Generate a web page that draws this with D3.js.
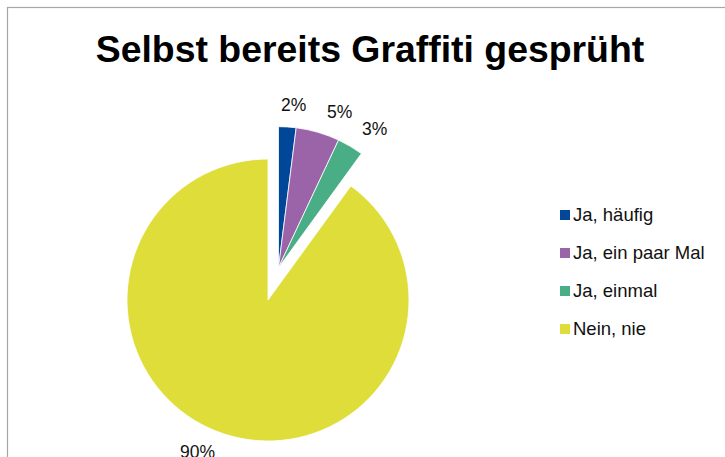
<!DOCTYPE html>
<html>
<head>
<meta charset="utf-8">
<script src="https://cdn.jsdelivr.net/npm/d3@7"></script>
<style>
    body { margin: 0; background: #fff; }
    svg { display: block; font-family: "Liberation Sans", Arial, sans-serif; }
</style>
</head>
<body>
<script>
(function(){
    //chart data
    var categories = ["Ja, häufig", "Ja, ein paar Mal", "Ja, einmal", "Nein, nie"];
    var values = [2, 5, 3, 90];
    var labels = ["2%", "5%", "3%", "90%"];
    var colors = ["#00479A", "#9B63A8", "#49AE86", "#DEDD3A"];
    var exploded = ["Ja, häufig", "Ja, ein paar Mal", "Ja, einmal"];

    var width = 725,
        height = 457;

    var svg = d3.select("body")
        .append("svg")
        .attr("width", width)
        .attr("height", height);

    //chart border (runs off the right and bottom edge)
    svg.append("rect")
        .attr("x", 7.5)
        .attr("y", 7.5)
        .attr("width", 900)
        .attr("height", 900)
        .style("fill", "none")
        .style("stroke", "#a6a6a6")
        .style("stroke-width", 1.2);

    //title
    svg.append("text")
        .attr("x", 370)
        .attr("y", 62)
        .attr("text-anchor", "middle")
        .style("font-size", "37.4px")
        .style("font-weight", "bold")
        .text("Selbst bereits Graffiti gesprüht");

    var cx = 268, cy = 300, radius = 141, explodeDist = 34;

    var pie = d3.pie().sort(null).value(function(d){ return d; });
    var arcs = pie(values);
    var arc = d3.arc().innerRadius(0).outerRadius(radius);

    //exploded group moves along its combined mid angle
    var exArcs = arcs.filter(function(d, i){ return exploded.indexOf(categories[i]) >= 0; });
    var exMid = (d3.min(exArcs, function(d){ return d.startAngle; }) +
                 d3.max(exArcs, function(d){ return d.endAngle; })) / 2;

    function offset(i){
        if (exploded.indexOf(categories[i]) < 0) return [0, 0];
        return [explodeDist * Math.sin(exMid), -explodeDist * Math.cos(exMid)];
    }

    var g = svg.append("g").attr("transform", "translate(" + cx + "," + cy + ")");

    g.selectAll(".slice")
        .data(arcs)
        .enter()
        .append("path")
        .attr("class", "slice")
        .attr("transform", function(d, i){ var o = offset(i); return "translate(" + o[0] + "," + o[1] + ")"; })
        .attr("d", arc)
        .style("fill", function(d, i){ return colors[i]; })
        .style("stroke", "#fff")
        .style("stroke-width", 0.8);

    //data labels: nearest corner of the label box touches a circle outside the pie
    var labelR = 155, labelShift = 2 * Math.PI / 180;
    g.selectAll(".lbl")
        .data(arcs)
        .enter()
        .append("text")
        .attr("class", "lbl")
        .each(function(d, i){
            var a = (d.startAngle + d.endAngle) / 2 + labelShift,
                o = offset(i),
                sx = Math.sin(a),
                sy = -Math.cos(a);
            var anchor = Math.abs(sx) < 0.15 ? "middle" : (sx >= 0 ? "start" : "end");
            d3.select(this)
                .attr("x", o[0] + labelR * sx)
                .attr("y", o[1] + labelR * sy + (sy < 0 ? -2 : 12))
                .attr("text-anchor", anchor);
        })
        .style("font-size", "17.5px")
        .style("fill", "#111")
        .text(function(d, i){ return labels[i]; });

    //legend
    var legend = svg.selectAll(".legend")
        .data(categories)
        .enter()
        .append("g")
        .attr("class", "legend")
        .attr("transform", function(d, i){ return "translate(560," + (210 + i * 38) + ")"; });

    legend.append("rect")
        .attr("width", 10)
        .attr("height", 10)
        .style("fill", function(d, i){ return colors[i]; });

    legend.append("text")
        .attr("x", 13)
        .attr("y", 11)
        .style("font-size", "18.5px")
        .style("fill", "#111")
        .text(function(d){ return d; });
})();
</script>
</body>
</html>
